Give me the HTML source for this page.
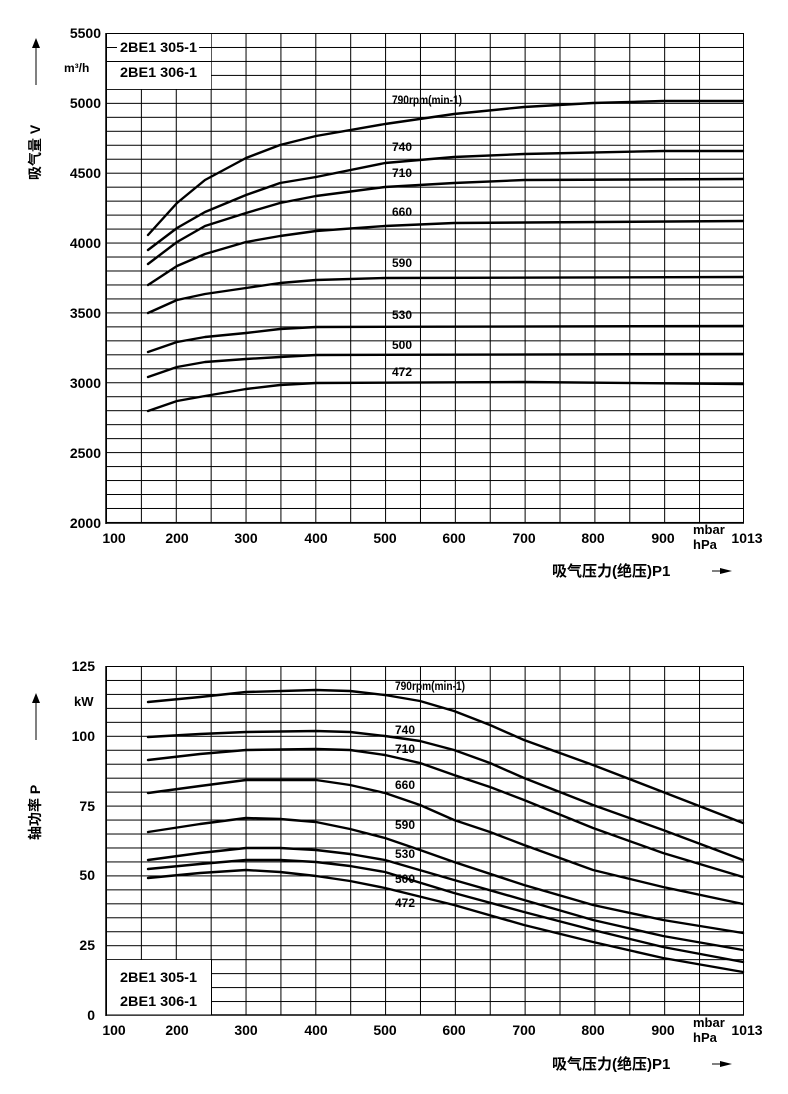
<!DOCTYPE html>
<html><head><meta charset="utf-8"><style>
html,body{margin:0;padding:0;background:#fff}
svg{display:block}
text{font-family:"Liberation Sans Narrow","Liberation Sans","Noto Sans CJK SC",sans-serif;font-weight:bold;fill:#000}
</style></head><body>
<svg width="788" height="1094" viewBox="0 0 788 1094" xmlns="http://www.w3.org/2000/svg">
<defs>
<pattern id="g1" patternUnits="userSpaceOnUse" x="106" y="33" width="34.885" height="13.97">
<path d="M0.5 0V13.97M0 0.5H34.885" stroke="#000" stroke-width="1" fill="none"/>
</pattern>
<pattern id="h1" patternUnits="userSpaceOnUse" x="106" y="33" width="34.885" height="13.97">
<path d="M0 0.5H34.885" stroke="#000" stroke-width="1" fill="none"/>
</pattern>
<pattern id="g2" patternUnits="userSpaceOnUse" x="106" y="666" width="34.885" height="13.96">
<path d="M0.5 0V13.96M0 0.5H34.885" stroke="#000" stroke-width="1" fill="none"/>
</pattern>
<pattern id="h2" patternUnits="userSpaceOnUse" x="106" y="666" width="34.885" height="13.96">
<path d="M0 0.5H34.885" stroke="#000" stroke-width="1" fill="none"/>
</pattern>
</defs>
<!-- top chart -->
<rect x="106" y="33" width="627" height="490" fill="url(#g1)"/>
<rect x="733" y="33" width="10" height="490" fill="url(#h1)"/>
<line x1="743.5" y1="33" x2="743.5" y2="523" stroke="#000"/>
<line x1="106" y1="523" x2="744" y2="523" stroke="#000" stroke-width="1.5"/>
<line x1="106" y1="33" x2="106" y2="524" stroke="#000" stroke-width="1.5"/>
<rect x="107" y="34" width="104" height="55" fill="#fff"/>
<line x1="106" y1="47.5" x2="211" y2="47.5" stroke="#000"/>
<line x1="106" y1="61.5" x2="211" y2="61.5" stroke="#000"/>
<rect x="117" y="40" width="82" height="14" fill="#fff"/>
<rect x="117" y="65" width="82" height="14" fill="#fff"/>
<text x="120" y="52" font-size="14" textLength="77" lengthAdjust="spacingAndGlyphs">2BE1 305-1</text>
<text x="120" y="77" font-size="14" textLength="77" lengthAdjust="spacingAndGlyphs">2BE1 306-1</text>
<g font-size="14" text-anchor="end">
<text x="101" y="38">5500</text><text x="101" y="108">5000</text><text x="101" y="178">4500</text>
<text x="101" y="248">4000</text><text x="101" y="318">3500</text><text x="101" y="388">3000</text>
<text x="101" y="458">2500</text><text x="101" y="528">2000</text>
</g>
<text x="64" y="72" font-size="12">m³/h</text>
<g transform="translate(40,180) rotate(-90)"><text x="0" y="0" font-size="14">吸气量 V</text></g>
<line x1="36" y1="85" x2="36" y2="45" stroke="#000"/><path d="M32 48L36 38L40 48Z"/>
<g font-size="14" text-anchor="middle">
<text x="114" y="543">100</text><text x="177" y="543">200</text><text x="246" y="543">300</text>
<text x="316" y="543">400</text><text x="385" y="543">500</text><text x="454" y="543">600</text>
<text x="524" y="543">700</text><text x="593" y="543">800</text><text x="663" y="543">900</text>
<text x="747" y="543">1013</text>
</g>
<text x="693" y="534" font-size="13">mbar</text><text x="693" y="549" font-size="13">hPa</text>
<text x="552" y="576" font-size="15">吸气压力(绝压)P1</text>
<line x1="712" y1="571" x2="726" y2="571" stroke="#000"/><path d="M720 568L732 571L720 574Z"/>
<g fill="none" stroke="#000" stroke-width="2.4" stroke-linejoin="round" stroke-linecap="round">
<polyline points="148,235 177,203 205,180 246,158 280,145 316,136 385,124 454,114 524,107 593,103 663,101 743,101"/>
<polyline points="148,250 177,228 205,212 246,195 280,183 316,177 385,163 454,157 524,154 663,151 743,151"/>
<polyline points="148,264 177,242 205,226 246,213 280,203 316,196 385,187 454,183 524,180 743,179"/>
<polyline points="148,285 177,266 205,254 246,242 280,236 316,231 385,226 454,223 743,221"/>
<polyline points="148,313 177,300 205,294 246,288 280,283 316,280 385,278 743,277"/>
<polyline points="148,352 177,342 205,337 246,333 280,329 316,327 743,326"/>
<polyline points="148,377 177,367 205,362 246,359 280,357 316,355 743,354"/>
<polyline points="148,411 177,401 205,396 246,389 280,385 316,383 524,382 743,384"/>
</g>
<g font-size="12">
<text x="392" y="104" textLength="70" lengthAdjust="spacingAndGlyphs">790rpm(min-1)</text><text x="392" y="151">740</text><text x="392" y="177">710</text>
<text x="392" y="216">660</text><text x="392" y="267">590</text><text x="392" y="319">530</text>
<text x="392" y="349">500</text><text x="392" y="376">472</text>
</g>
<!-- bottom chart -->
<rect x="106" y="666" width="627" height="349" fill="url(#g2)"/>
<rect x="733" y="666" width="10" height="349" fill="url(#h2)"/>
<line x1="743.5" y1="666" x2="743.5" y2="1015" stroke="#000"/>
<line x1="106" y1="1015" x2="744" y2="1015" stroke="#000" stroke-width="1.5"/>
<line x1="106" y1="666" x2="106" y2="1016" stroke="#000" stroke-width="1.5"/>
<rect x="107" y="960" width="104" height="54.5" fill="#fff"/>
<line x1="211.5" y1="959" x2="211.5" y2="1015" stroke="#000"/>
<text x="120" y="982" font-size="14" textLength="77" lengthAdjust="spacingAndGlyphs">2BE1 305-1</text>
<text x="120" y="1006" font-size="14" textLength="77" lengthAdjust="spacingAndGlyphs">2BE1 306-1</text>
<g font-size="14" text-anchor="end">
<text x="95" y="671">125</text><text x="95" y="741">100</text><text x="95" y="811">75</text>
<text x="95" y="880">50</text><text x="95" y="950">25</text><text x="95" y="1020">0</text>
</g>
<text x="74" y="706" font-size="13">kW</text>
<g transform="translate(40,840) rotate(-90)"><text x="0" y="0" font-size="14">轴功率 P</text></g>
<line x1="36" y1="740" x2="36" y2="700" stroke="#000"/><path d="M32 703L36 693L40 703Z"/>
<g font-size="14" text-anchor="middle">
<text x="114" y="1035">100</text><text x="177" y="1035">200</text><text x="246" y="1035">300</text>
<text x="316" y="1035">400</text><text x="385" y="1035">500</text><text x="454" y="1035">600</text>
<text x="524" y="1035">700</text><text x="593" y="1035">800</text><text x="663" y="1035">900</text>
<text x="747" y="1035">1013</text>
</g>
<text x="693" y="1027" font-size="13">mbar</text><text x="693" y="1042" font-size="13">hPa</text>
<text x="552" y="1069" font-size="15">吸气压力(绝压)P1</text>
<line x1="712" y1="1064" x2="726" y2="1064" stroke="#000"/><path d="M720 1061L732 1064L720 1067Z"/>
<g fill="none" stroke="#000" stroke-width="2.4" stroke-linejoin="round" stroke-linecap="round">
<polyline points="148,702 200,697 246,692 316,690 350,691 385,695 420,701 454,711 490,725 524,740 593,765 663,792 743,823"/>
<polyline points="148,737 200,734 246,732 316,731 350,732 385,736 420,741 454,750 490,763 524,778 593,805 663,830 743,860"/>
<polyline points="148,760 200,754 246,750 316,749 350,750 385,755 420,763 454,775 490,787 524,800 593,828 663,853 743,877"/>
<polyline points="148,793 200,786 246,780 316,780 350,785 385,793 420,805 454,820 490,832 524,845 593,870 663,887 743,904"/>
<polyline points="148,832 200,824 246,818 280,819 316,822 350,829 385,838 420,850 454,862 524,885 593,905 663,920 743,933"/>
<polyline points="148,860 200,853 246,848 280,848 316,850 350,854 385,860 454,880 524,900 593,920 663,936 743,950"/>
<polyline points="148,869 200,864 246,860 280,860 316,862 350,866 385,872 454,893 524,912 593,930 663,947 743,962"/>
<polyline points="148,878 200,873 246,870 280,872 316,876 350,881 385,888 454,905 524,925 593,942 663,958 743,972"/>
</g>
<g font-size="12">
<text x="395" y="690" textLength="70" lengthAdjust="spacingAndGlyphs">790rpm(min-1)</text><text x="395" y="734">740</text><text x="395" y="753">710</text>
<text x="395" y="789">660</text><text x="395" y="829">590</text><text x="395" y="858">530</text>
<text x="395" y="883">500</text><text x="395" y="907">472</text>
</g>
</svg>
</body></html>
